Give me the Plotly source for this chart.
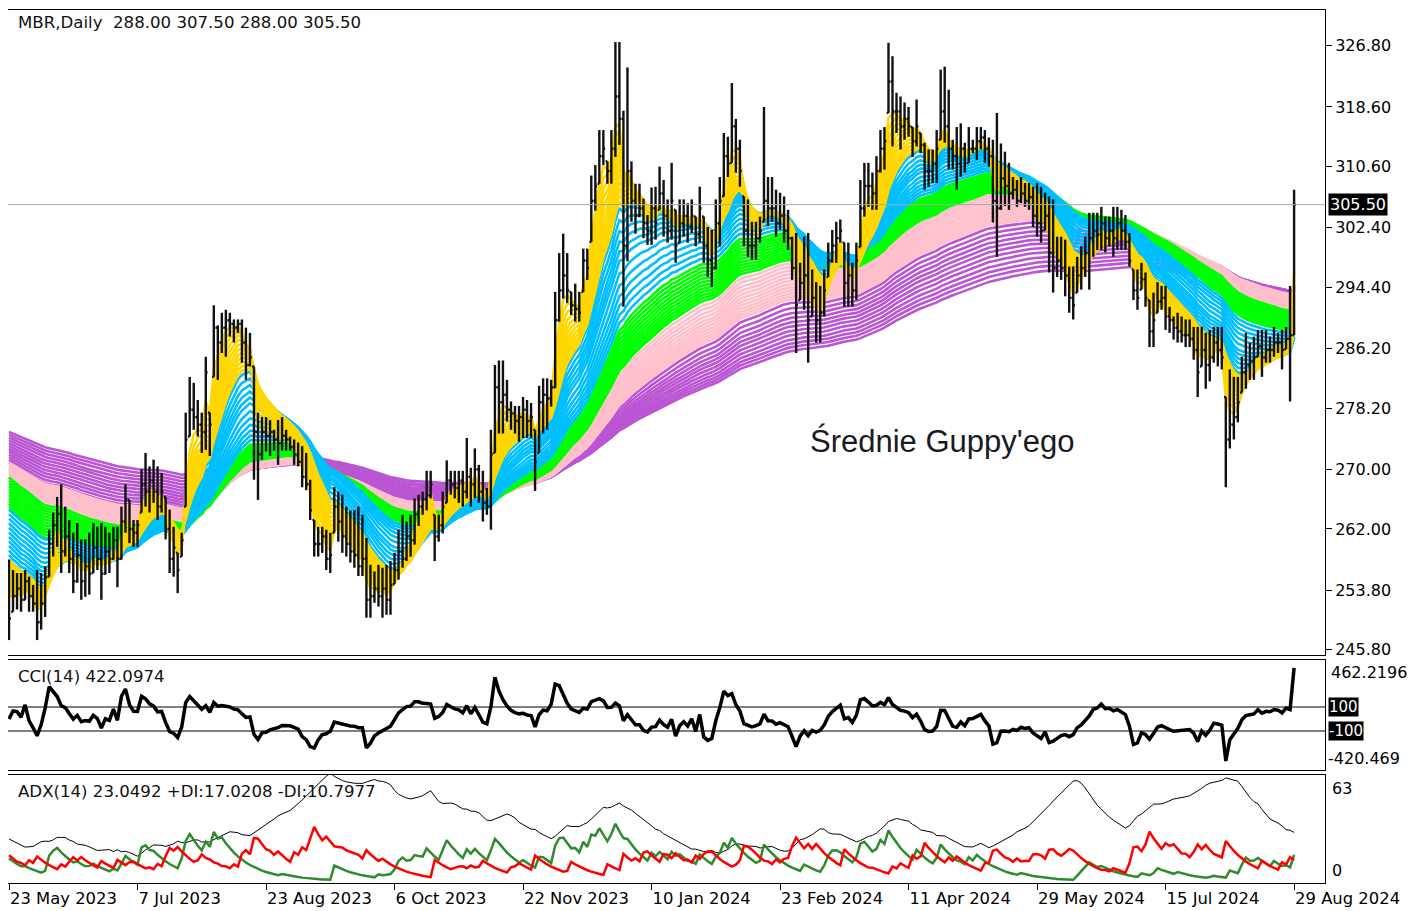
import numpy as np
import plotly.graph_objects as go

# ---------------- data ----------------
CLOSE = [
    250, 253, 254, 252.5, 255, 253, 252, 249.5, 252, 255.5,
    260, 262.5, 264, 259, 261, 258, 255, 258.5, 255, 257,
    256, 259.5, 258, 256, 259, 258, 260.5, 258, 263, 266,
    262, 261.5, 262.5, 268, 267, 268.5, 267, 265, 267, 262,
    258, 259.5, 256.5, 260.5, 274, 278, 277, 276, 275, 283,
    276, 289, 287, 289, 290, 289.5, 289, 289.5, 287, 284,
    285, 275, 272, 275, 274.5, 275, 274, 273.5, 274.5, 274,
    273, 272, 271, 269, 268, 264.5, 260, 260, 261, 258,
    258.5, 265, 263, 261, 260, 259, 258.5, 257, 258, 252.5,
    253, 254, 253, 254, 252.5, 254.5, 256.5, 259, 258, 261,
    260.5, 264, 265, 266, 266.5, 268, 261, 262.5, 265, 268.5,
    268, 267.5, 268.5, 267, 269, 268, 270, 267, 265.5, 265,
    272, 281, 279, 280, 278, 277.5, 276.5, 277, 278, 276.5,
    277, 271, 279, 280, 279.5, 281, 290, 294, 296, 294,
    292, 291.5, 291, 298, 297, 306, 308, 312, 313, 310,
    313, 320, 317, 300, 310, 306, 304, 305, 303, 302,
    305, 303, 307, 304, 302, 306, 300, 303, 304, 302.5,
    304, 301.5, 305, 300, 298, 297, 303, 306, 312, 311,
    316, 313, 310, 302, 300, 300, 301, 302, 306, 305,
    305, 303, 304, 302, 301, 297, 292, 295, 296, 290,
    293, 290, 291, 294, 298, 300, 301, 302, 295, 296,
    294, 298, 305, 308, 308, 307, 310, 313, 314, 322,
    318, 318, 316, 317, 316, 314, 316, 313.5, 310, 310,
    311, 313, 318, 316, 313, 312, 311, 313, 311, 313,
    313, 314, 314.5, 313, 312, 306, 305, 309, 308, 307,
    307.5, 306, 307, 306, 306.5, 304, 303, 302, 304, 299,
    297, 298, 297, 296, 293, 292, 296, 297, 299, 301,
    302, 301.5, 303, 301, 302, 301, 303, 302, 300.5, 298,
    294, 293, 295.5, 293, 288.5, 290, 292.5, 293, 290.5, 290,
    289, 288.5, 288, 288, 287.5, 286, 283, 286, 284, 285,
    287, 286, 285, 274, 276, 277, 279, 283, 284, 284.5,
    285, 286.5, 285, 286, 286, 287, 287, 286, 287.5, 288,
    305.5,
]

HIGH = [
    257.9, 256.5, 256.1, 256.1, 256.5, 255.6, 254.5, 256.5, 256.1, 257.0,
    261.9, 264.2, 266.3, 268.0, 265.0, 263.2, 261.5, 262.8, 260.6, 260.6,
    261.5, 262.8, 262.3, 262.8, 262.3, 261.5, 262.3, 262.3, 265.0, 268.0,
    265.9, 263.2, 263.2, 270.0, 272.2, 270.4, 271.3, 270.4, 269.5, 266.3,
    264.6, 262.3, 258.8, 261.5, 277.6, 282.4, 281.6, 279.3, 277.6, 285.1,
    277.6, 292.0, 289.3, 291.0, 291.4, 291.0, 290.1, 290.1, 290.1, 289.0,
    288.3, 283.8, 277.6, 277.0, 277.0, 276.6, 275.3, 276.6, 277.0, 275.3,
    274.4, 274.0, 273.6, 273.1, 272.2, 268.6, 263.2, 262.3, 262.3, 261.9,
    261.5, 267.6, 267.0, 266.6, 265.0, 264.5, 264.5, 265.0, 263.9, 260.8,
    257.2, 256.3, 257.2, 256.8, 257.2, 257.7, 258.8, 261.9, 263.9, 263.0,
    263.9, 266.1, 266.6, 267.0, 269.8, 269.8, 263.9, 263.9, 267.0, 271.2,
    269.8, 269.8, 269.8, 269.8, 274.2, 270.2, 272.8, 270.6, 269.8, 267.5,
    275.3, 284.0, 284.6, 284.6, 282.0, 279.1, 278.5, 278.5, 279.7, 279.3,
    278.9, 275.3, 281.2, 282.2, 282.2, 282.0, 293.8, 299.0, 301.6, 299.0,
    293.8, 294.9, 293.8, 299.6, 299.6, 309.4, 310.8, 315.5, 315.5, 311.3,
    315.5, 327.3, 327.3, 318.1, 323.9, 311.3, 308.3, 308.3, 306.3, 304.1,
    307.8, 307.9, 310.6, 308.8, 306.2, 311.1, 304.8, 306.2, 306.2, 305.7,
    306.2, 303.9, 307.9, 303.9, 302.5, 302.1, 306.2, 309.2, 315.1, 314.6,
    321.8, 317.0, 314.2, 306.6, 306.2, 303.2, 303.2, 303.9, 318.6, 309.2,
    309.2, 307.5, 307.1, 306.6, 304.8, 301.2, 301.7, 297.7, 301.2, 301.7,
    296.8, 295.1, 294.6, 296.8, 300.4, 302.1, 303.2, 303.5, 300.4, 300.4,
    297.7, 300.4, 308.8, 311.1, 311.1, 309.8, 312.0, 315.5, 315.9, 327.2,
    325.4, 320.5, 320.0, 319.2, 318.6, 315.9, 319.6, 315.1, 313.8, 312.9,
    312.9, 315.5, 323.6, 324.0, 320.9, 314.2, 315.9, 316.4, 313.8, 315.9,
    314.2, 315.9, 315.9, 315.5, 314.5, 314.2, 317.8, 313.7, 312.6, 311.1,
    309.2, 308.8, 309.2, 308.4, 308.4, 307.9, 308.4, 307.9, 307.1, 306.6,
    306.2, 301.2, 301.2, 300.8, 297.2, 297.2, 298.5, 299.9, 301.2, 304.4,
    304.4, 304.4, 305.2, 303.9, 303.9, 305.2, 305.2, 304.8, 304.1, 301.7,
    296.8, 296.8, 297.7, 296.4, 292.7, 293.7, 295.1, 294.6, 294.6, 291.8,
    290.5, 291.0, 290.5, 290.1, 290.1, 289.1, 289.1, 289.1, 288.3, 288.7,
    289.1, 289.1, 289.1, 279.7, 283.4, 282.4, 282.4, 285.1, 288.3, 287.0,
    287.8, 288.7, 288.7, 288.7, 287.8, 289.1, 288.3, 288.7, 289.1, 294.6,
    307.5,
]

LOW = [
    247.1, 250.9, 251.2, 250.9, 252.5, 250.9, 250.9, 247.1, 248.5, 250.2,
    255.6, 258.3, 259.6, 256.1, 258.3, 256.1, 253.4, 254.8, 252.5, 252.9,
    253.2, 256.1, 256.5, 252.5, 255.9, 256.1, 257.9, 254.2, 257.9, 261.5,
    260.1, 259.6, 259.6, 264.2, 265.0, 264.2, 265.5, 263.2, 264.2, 260.6,
    256.1, 255.6, 253.4, 258.3, 265.0, 274.4, 275.3, 274.4, 272.2, 272.6,
    271.8, 282.4, 282.0, 285.6, 285.1, 287.8, 287.0, 288.3, 284.3, 282.0,
    283.8, 268.6, 265.9, 271.3, 272.4, 271.8, 272.5, 270.6, 272.5, 272.5,
    272.5, 270.6, 270.4, 267.6, 267.2, 263.2, 258.3, 258.3, 258.8, 256.5,
    256.1, 261.5, 260.3, 258.8, 258.3, 257.5, 256.8, 255.7, 255.7, 250.1,
    250.1, 252.1, 251.6, 250.1, 250.5, 250.5, 254.6, 255.2, 256.8, 257.7,
    258.3, 259.9, 262.4, 263.9, 264.5, 266.1, 257.7, 260.3, 261.4, 265.5,
    266.6, 266.1, 265.5, 265.0, 266.1, 265.0, 266.1, 265.5, 263.0, 263.9,
    261.9, 272.2, 274.8, 274.8, 276.4, 275.3, 274.8, 273.7, 274.2, 274.2,
    274.2, 267.1, 272.2, 274.8, 275.3, 278.4, 280.9, 289.8, 292.9, 292.3,
    290.7, 289.8, 289.8, 293.8, 295.4, 300.5, 304.7, 308.3, 310.8, 308.3,
    308.3, 311.9, 313.5, 291.8, 297.9, 303.2, 301.6, 303.8, 301.0, 300.1,
    300.1, 300.8, 304.8, 301.2, 300.4, 300.8, 297.7, 300.4, 301.2, 300.4,
    301.7, 299.9, 300.4, 297.7, 295.8, 294.5, 296.8, 299.9, 306.6, 309.2,
    311.1, 309.8, 307.9, 299.9, 298.5, 298.1, 298.1, 300.4, 303.2, 302.6,
    303.2, 301.2, 302.1, 300.4, 299.4, 295.4, 285.6, 292.7, 291.4, 284.3,
    290.5, 287.0, 287.0, 290.5, 295.8, 297.7, 297.7, 300.4, 291.8, 291.8,
    291.8, 292.7, 299.8, 303.9, 305.2, 304.8, 304.8, 309.8, 310.2, 317.8,
    313.3, 315.1, 312.9, 314.2, 314.6, 311.9, 313.3, 312.4, 307.5, 307.9,
    308.4, 308.4, 314.2, 313.8, 310.2, 310.2, 307.5, 309.2, 309.8, 311.1,
    312.4, 311.5, 312.9, 311.1, 310.6, 303.1, 298.5, 304.8, 305.3, 304.8,
    306.2, 305.2, 305.7, 305.2, 304.8, 302.5, 301.2, 300.4, 302.1, 296.4,
    293.7, 295.8, 295.4, 293.2, 291.0, 290.1, 293.7, 294.1, 295.8, 294.1,
    298.5, 299.4, 299.4, 299.1, 299.9, 298.5, 299.4, 299.4, 299.4, 297.2,
    292.7, 291.4, 294.1, 291.8, 286.4, 286.4, 291.0, 291.4, 288.7, 288.3,
    287.4, 287.0, 287.0, 286.4, 286.4, 284.7, 279.7, 283.8, 280.8, 281.8,
    284.3, 283.8, 283.4, 267.6, 272.8, 274.0, 276.3, 280.3, 280.8, 282.0,
    282.0, 285.1, 282.4, 284.3, 284.3, 285.1, 285.6, 283.4, 286.1, 279.1,
    288.0,
]

# opens: estimated (about the previous close)
OPEN = [
    255, 250, 253, 254, 252.5, 255, 253, 252, 249.5, 252,
    255.5, 260, 262.5, 264, 259, 261, 258, 255, 258.5, 255,
    257, 256, 259.5, 258, 256, 259, 258, 260.5, 258, 263,
    266, 262, 261.5, 262.5, 268, 267, 268.5, 267, 265, 267,
    262, 258, 259.5, 256.5, 260.5, 274, 278, 277, 276, 275,
    283, 276, 289, 287, 289, 290, 289.5, 289, 289.5, 287,
    284, 285, 275, 272, 275, 274.5, 275, 274, 273.5, 274.5,
    274, 273, 272, 271, 269, 268, 264.5, 260, 260, 261,
    258, 258.5, 265, 263, 261, 260, 259, 258.5, 257, 258,
    252.5, 253, 254, 253, 254, 252.5, 254.5, 256.5, 259, 258,
    261, 260.5, 264, 265, 266, 266.5, 268, 261, 262.5, 265,
    268.5, 268, 267.5, 268.5, 267, 269, 268, 270, 267, 265.5,
    265, 272, 281, 279, 280, 278, 277.5, 276.5, 277, 278,
    276.5, 277, 271, 279, 280, 279.5, 281, 290, 294, 296,
    294, 292, 291.5, 291, 298, 297, 306, 308, 312, 313,
    310, 313, 320, 317, 300, 310, 306, 304, 305, 303,
    302, 305, 303, 307, 304, 302, 306, 300, 303, 304,
    302.5, 304, 301.5, 305, 300, 298, 297, 303, 306, 312,
    311, 316, 313, 310, 302, 300, 300, 301, 302, 306,
    305, 305, 303, 304, 302, 301, 297, 292, 295, 296,
    290, 293, 290, 291, 294, 298, 300, 301, 302, 295,
    296, 294, 298, 305, 308, 308, 307, 310, 313, 314,
    322, 318, 318, 316, 317, 316, 314, 316, 313.5, 310,
    310, 311, 313, 318, 316, 313, 312, 311, 313, 311,
    313, 313, 314, 314.5, 313, 312, 306, 305, 309, 308,
    307, 307.5, 306, 307, 306, 306.5, 304, 303, 302, 304,
    299, 297, 298, 297, 296, 293, 292, 296, 297, 299,
    301, 302, 301.5, 303, 301, 302, 301, 303, 302, 300.5,
    298, 294, 293, 295.5, 293, 288.5, 290, 292.5, 293, 290.5,
    290, 289, 288.5, 288, 288, 287.5, 286, 283, 286, 284,
    285, 287, 286, 285, 274, 276, 277, 279, 283, 284,
    284.5, 285, 286.5, 285, 286, 286, 287, 287, 286, 287.5,
    288,
]

DATE_TICK_INDEX = [0, 32, 64, 96, 128, 160, 192, 224, 256, 288, 320]
DATE_TICK_TEXT = ["23 May 2023", "7 Jul 2023", "23 Aug 2023", "6 Oct 2023",
                  "22 Nov 2023", "10 Jan 2024", "23 Feb 2024", "11 Apr 2024",
                  "29 May 2024", "15 Jul 2024", "29 Aug 2024"]
PRICE_TICKS = [245.8, 253.8, 262.0, 270.0, 278.2, 286.2, 294.4, 302.4, 310.6, 318.6, 326.8]

# Guppy ribbons: EMA periods per colour group
YELLOW_PERIODS = [3, 4, 5, 6, 7, 8, 9, 10, 11, 12, 13, 14]
BLUE_PERIODS = [15, 17, 19, 21, 23, 25, 28, 31, 34, 37, 40, 43]
GREEN_PERIODS = [46, 48, 50, 52, 54, 56, 58, 60, 62, 64, 66, 68]
PINK_PERIODS = [71, 74, 77, 80, 83, 86, 89, 92, 95, 98, 101, 104]
PURPLE_PERIODS = [108, 114, 120, 126, 132, 138, 145, 152, 160, 168, 176, 185]
# band levels (fast end, slow end) at the first visible bar
YELLOW_START = (253.0, 257.9)
BLUE_START = (257.9, 264.6)
GREEN_START = (264.6, 268.9)
PINK_START = (268.9, 270.9)
PURPLE_START = (270.9, 275.0)
# indicator levels at the first visible bar (ADX, +DI, -DI)
ADX_START = (26.0, 14.0, 16.0)

LAST_PRICE = 305.5

# ---------------- computations ----------------
n = len(CLOSE)
idx = np.arange(n)
C = np.array(CLOSE, float)
H = np.array(HIGH, float)
L = np.array(LOW, float)
O = np.minimum(np.maximum(np.array(OPEN, float), L), H)


def smooth(values, alpha, seed):
    out = np.empty(len(values))
    prev = seed
    for i, v in enumerate(values):
        if i > 0:
            prev = prev + alpha * (v - prev)
        out[i] = prev
    return out


def ema(values, period, seed):
    return smooth(values, 2.0 / (period + 1), seed)


# CCI(14)
tp = (H + L + C) / 3
cci = np.zeros(n)
for i in range(n):
    w = tp[max(0, i - 13):i + 1]
    m = w.mean()
    md = np.abs(w - m).mean()
    cci[i] = (tp[i] - m) / (0.015 * md) if md > 0 else 0.0

# ADX(14)
pdi_raw = np.zeros(n)
mdi_raw = np.zeros(n)
for i in range(1, n):
    up = max(H[i] - H[i - 1], 0.0)
    dn = max(L[i - 1] - L[i], 0.0)
    if up > dn:
        dn = 0.0
    elif up < dn:
        up = 0.0
    else:
        up = dn = 0.0
    tr = max(H[i] - L[i], abs(H[i] - C[i - 1]), abs(L[i] - C[i - 1]))
    if tr > 0:
        pdi_raw[i] = 100 * up / tr
        mdi_raw[i] = 100 * dn / tr
pdi = ema(pdi_raw, 14, ADX_START[1])
mdi = ema(mdi_raw, 14, ADX_START[2])
dx = np.where(pdi + mdi > 0, 100 * np.abs(pdi - mdi) / np.maximum(pdi + mdi, 1e-9), 0.0)
adx = smooth(dx, 1.0 / 14, ADX_START[0])

# ---------------- figure ----------------
fig = go.Figure()

groups = [
    ("#BA55D3", PURPLE_PERIODS, PURPLE_START),
    ("#FFC0CB", PINK_PERIODS, PINK_START),
    ("#00FF00", GREEN_PERIODS, GREEN_START),
    ("#00BFFF", BLUE_PERIODS, BLUE_START),
    ("#FFD700", YELLOW_PERIODS, YELLOW_START),
]
for color, periods, (s_fast, s_slow) in groups:
    k = len(periods)
    for j, p in enumerate(periods):
        seed = s_fast + (s_slow - s_fast) * j / (k - 1)
        fig.add_trace(go.Scatter(x=idx, y=ema(C, p, seed), mode="lines",
                                 line=dict(color=color, width=2.6),
                                 hoverinfo="skip", showlegend=False))

# OHLC bars as line segments (drawn on top of the ribbons)
bx, by = [], []
for i in range(n):
    bx += [i, i, None, i - 0.45, i, None, i, i + 0.45, None]
    by += [L[i], H[i], None, O[i], O[i], None, C[i], C[i], None]
fig.add_trace(go.Scatter(x=bx, y=by, mode="lines", line=dict(color="#111111", width=2.4),
                         hoverinfo="skip", showlegend=False, connectgaps=False))

# CCI
fig.add_trace(go.Scatter(x=idx, y=cci, xaxis="x2", yaxis="y2", mode="lines",
                         line=dict(color="black", width=3.5), hoverinfo="skip", showlegend=False))
# ADX
fig.add_trace(go.Scatter(x=idx, y=adx, xaxis="x3", yaxis="y3", mode="lines",
                         line=dict(color="black", width=1), hoverinfo="skip", showlegend=False))
fig.add_trace(go.Scatter(x=idx, y=pdi, xaxis="x3", yaxis="y3", mode="lines",
                         line=dict(color="#2E8B2E", width=2.5), hoverinfo="skip", showlegend=False))
fig.add_trace(go.Scatter(x=idx, y=mdi, xaxis="x3", yaxis="y3", mode="lines",
                         line=dict(color="#FF0000", width=2.5), hoverinfo="skip", showlegend=False))

FONT = "DejaVu Sans"
xr = [-0.25, 327.7]
axis_common = dict(showline=True, linecolor="black", linewidth=1, mirror=True,
                   showgrid=False, zeroline=False)

# the page body has an 8px margin: the figure is sized so it fills the window exactly
fig.update_layout(
    width=1414, height=903,
    margin=dict(l=0, r=97, t=2, b=28),
    paper_bgcolor="white", plot_bgcolor="white",
    font=dict(family=FONT, size=16, color="black"),
    showlegend=False,
    xaxis=dict(range=xr, domain=[0, 1], anchor="y", showticklabels=False, ticks="",
               **axis_common),
    xaxis2=dict(range=xr, domain=[0, 1], anchor="y2", matches="x", showticklabels=False,
                ticks="", **axis_common),
    xaxis3=dict(range=xr, domain=[0, 1], anchor="y3", matches="x",
                tickmode="array", tickvals=DATE_TICK_INDEX, ticktext=DATE_TICK_TEXT,
                ticks="outside", ticklen=6, tickcolor="black",
                ticklabelposition="outside right",
                tickfont=dict(family=FONT, size=16.4, color="black"),
                **axis_common),
    yaxis=dict(range=[245.1, 331.6], domain=[0.26117, 1.0], side="right", anchor="x",
               tickmode="array", tickvals=PRICE_TICKS,
               ticktext=[f"{v:.2f}" for v in PRICE_TICKS],
               ticks="outside", ticklen=6, tickcolor="black",
               tickfont=dict(family=FONT, size=16, color="black"),
               **axis_common),
    yaxis2=dict(range=[-425, 492], domain=[0.12944, 0.25544], side="right", anchor="x2",
                showticklabels=False, ticks="", **axis_common),
    yaxis3=dict(range=[-1.2, 65.5], domain=[0.0, 0.12371], side="right", anchor="x3",
                showticklabels=False, ticks="", **axis_common),
)

# level lines
fig.add_shape(type="line", xref="x domain", yref="y", x0=0, x1=1, y0=LAST_PRICE, y1=LAST_PRICE,
              line=dict(color="#A8A8A8", width=1), layer="above")
for lv in (100, -100):
    fig.add_shape(type="line", xref="x2 domain", yref="y2", x0=0, x1=1, y0=lv, y1=lv,
                  line=dict(color="black", width=1), layer="below")

NB = "\u00a0"
X0 = 8 / 1317
ann = [
    dict(text=f"MBR,Daily{NB}{NB}288.00 307.50 288.00 305.50", xref="paper", yref="paper",
         x=X0, y=(883 - 23) / 873, xanchor="left", yanchor="middle",
         font=dict(family=FONT, size=16.6, color="#111111")),
    dict(text="CCI(14) 422.0974", xref="paper", yref="paper",
         x=X0, y=(883 - 676) / 873, xanchor="left", yanchor="middle",
         font=dict(family=FONT, size=16.6, color="#111111")),
    dict(text="ADX(14) 23.0492 +DI:17.0208 -DI:10.7977", xref="paper", yref="paper",
         x=X0, y=(883 - 791) / 873, xanchor="left", yanchor="middle",
         font=dict(family=FONT, size=16.6, color="#111111")),
    dict(text="Średnie Guppy'ego", xref="x", yref="y", x=232.3, y=273.8,
         xanchor="center", yanchor="middle",
         font=dict(family="Liberation Sans", size=31, color="#1a1a24")),
    dict(text=f"{LAST_PRICE:.2f}", xref="paper", yref="y", x=1.0025, y=LAST_PRICE,
         xanchor="left", yanchor="middle", bgcolor="black", borderpad=1,
         font=dict(family=FONT, size=16, color="white")),
    dict(text="462.2196", xref="paper", yref="y2", x=1.003, y=391.7,
         xanchor="left", yanchor="middle", font=dict(family=FONT, size=16, color="black")),
    dict(text="-420.469", xref="paper", yref="y2", x=1.001, y=-333,
         xanchor="left", yanchor="middle", font=dict(family=FONT, size=16, color="black")),
    dict(text="100", xref="paper", yref="y2", x=1.0025, y=100,
         xanchor="left", yanchor="middle", bgcolor="black", borderpad=0,
         font=dict(family=FONT, size=15, color="white")),
    dict(text="-100", xref="paper", yref="y2", x=1.0025, y=-100,
         xanchor="left", yanchor="middle", bgcolor="black", borderpad=0,
         font=dict(family=FONT, size=15, color="white")),
    dict(text="63", xref="paper", yref="y3", x=1.004, y=57.4,
         xanchor="left", yanchor="middle", font=dict(family=FONT, size=16, color="black")),
    dict(text="0", xref="paper", yref="y3", x=1.004, y=6.8,
         xanchor="left", yanchor="middle", font=dict(family=FONT, size=16, color="black")),
]
for a in ann:
    fig.add_annotation(showarrow=False, **a)

fig.write_html("out.html")
